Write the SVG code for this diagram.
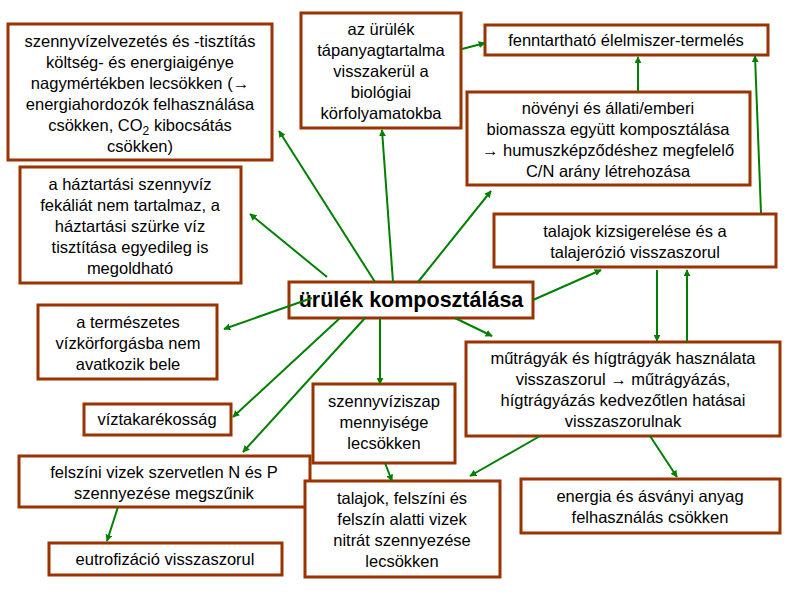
<svg xmlns="http://www.w3.org/2000/svg" width="788" height="596" viewBox="0 0 788 596">
<defs>
<marker id="a" viewBox="0 0 10 10" refX="9" refY="5" markerWidth="7" markerHeight="7" orient="auto" markerUnits="userSpaceOnUse"><path d="M0,0L10,5L0,10z" fill="#008000"/></marker>
<style>
rect{fill:#fff;stroke:#993300;stroke-width:3}
text{font-family:"Liberation Sans",Arial,sans-serif;font-size:16.5px;fill:#000;text-anchor:middle}
line{stroke:#008000;stroke-width:2;marker-end:url(#a)}
</style>
</defs>
<rect width="788" height="596" style="stroke:none"/>
<g id="n1"><rect x="8" y="24" width="264" height="136"/><text x="140" y="47"><tspan x="140">szennyvízelvezetés és -tisztítás</tspan><tspan x="140" dy="21">költség- és energiaigénye</tspan><tspan x="140" dy="21">nagymértékben lecsökken (→</tspan><tspan x="140" dy="21">energiahordozók  felhasználása</tspan><tspan x="140" dy="21">csökken, CO<tspan font-size="12" dy="4">2</tspan><tspan dy="-4"> kibocsátás</tspan></tspan><tspan x="140" dy="21">csökken)</tspan></text></g>
<g id="n2"><rect x="20" y="167" width="221" height="116"/><text x="130" y="190"><tspan x="130">a háztartási szennyvíz</tspan><tspan x="130" dy="21">fekáliát nem tartalmaz, a</tspan><tspan x="130" dy="21">háztartási szürke víz</tspan><tspan x="130" dy="21">tisztítása egyedileg is</tspan><tspan x="130" dy="21">megoldható</tspan></text></g>
<g id="n3"><rect x="301" y="13" width="160" height="115"/><text x="381" y="35"><tspan x="381">az ürülék</tspan><tspan x="381" dy="21">tápanyagtartalma</tspan><tspan x="381" dy="21">visszakerül a</tspan><tspan x="381" dy="21">biológiai</tspan><tspan x="381" dy="21">körfolyamatokba</tspan></text></g>
<g id="n4"><rect x="485" y="25" width="283" height="30"/><text x="626" y="46">fenntartható élelmiszer-termelés</text></g>
<g id="n5"><rect x="467" y="92" width="283" height="93"/><text x="608" y="114"><tspan x="608">növényi és állati/emberi</tspan><tspan x="608" dy="21">biomassza együtt komposztálása</tspan><tspan x="608" dy="21">→ humuszképződéshez megfelelő</tspan><tspan x="608" dy="21">C/N arány létrehozása</tspan></text></g>
<g id="n6"><rect x="494" y="214" width="282" height="53"/><text x="635" y="237"><tspan x="635">talajok kizsigerelése és a</tspan><tspan x="635" dy="21">talajerózió visszaszorul</tspan></text></g>
<g id="n7"><rect x="289" y="282" width="244" height="36"/><text x="411" y="307" style="font-size:21.5px;font-weight:bold">ürülék komposztálása</text></g>
<g id="n8"><rect x="38" y="305" width="179" height="74"/><text x="128" y="328"><tspan x="128">a természetes</tspan><tspan x="128" dy="21">vízkörforgásba nem</tspan><tspan x="128" dy="21">avatkozik bele</tspan></text></g>
<g id="n9"><rect x="466" y="342" width="314" height="94"/><text x="623" y="364"><tspan x="623">műtrágyák és hígtrágyák használata</tspan><tspan x="623" dy="21">visszaszorul → műtrágyázás,</tspan><tspan x="623" dy="21">hígtrágyázás kedvezőtlen hatásai</tspan><tspan x="623" dy="21">visszaszorulnak</tspan></text></g>
<g id="n10"><rect x="313" y="384" width="142" height="79"/><text x="384" y="407"><tspan x="384">szennyvíziszap</tspan><tspan x="384" dy="21">mennyisége</tspan><tspan x="384" dy="21">lecsökken</tspan></text></g>
<g id="n11"><rect x="84" y="404" width="147" height="31"/><text x="157" y="425">víztakarékosság</text></g>
<g id="n12"><rect x="19" y="456" width="291" height="51"/><text x="164" y="478"><tspan x="164">felszíni vizek szervetlen N és P</tspan><tspan x="164" dy="21">szennyezése megszűnik</tspan></text></g>
<g id="n13"><rect x="49" y="543" width="233" height="32"/><text x="165" y="565">eutrofizáció visszaszorul</text></g>
<g id="n14"><rect x="305" y="481" width="195" height="96"/><text x="402" y="504"><tspan x="402">talajok, felszíni és</tspan><tspan x="402" dy="21">felszín alatti vizek</tspan><tspan x="402" dy="21">nitrát szennyezése</tspan><tspan x="402" dy="21">lecsökken</tspan></text></g>
<g id="n15"><rect x="521" y="479" width="259" height="54"/><text x="650" y="502"><tspan x="650">energia és ásványi anyag</tspan><tspan x="650" dy="21">felhasználás csökken</tspan></text></g>
<g id="connectors">
<line x1="327" y1="277" x2="250" y2="214"/>
<line x1="375" y1="282" x2="279" y2="131"/>
<line x1="393" y1="282" x2="382" y2="130"/>
<line x1="418" y1="282" x2="491" y2="191"/>
<line x1="533" y1="300" x2="601" y2="270"/>
<line x1="312" y1="298" x2="224" y2="329"/>
<line x1="380" y1="318" x2="380" y2="384"/>
<line x1="340" y1="318" x2="233" y2="417"/>
<line x1="365" y1="318" x2="243" y2="452"/>
<line x1="455" y1="318" x2="492" y2="336"/>
<line x1="462" y1="49" x2="485" y2="43"/>
<line x1="638" y1="92" x2="638" y2="57"/>
<line x1="761" y1="213" x2="755" y2="56"/>
<line x1="657" y1="270" x2="657" y2="341"/>
<line x1="687" y1="342" x2="687" y2="270"/>
<line x1="385" y1="463" x2="392" y2="481"/>
<line x1="540" y1="436" x2="470" y2="476"/>
<line x1="650" y1="436" x2="677" y2="477"/>
<line x1="118" y1="507" x2="107" y2="541"/>
</g>
</svg>
